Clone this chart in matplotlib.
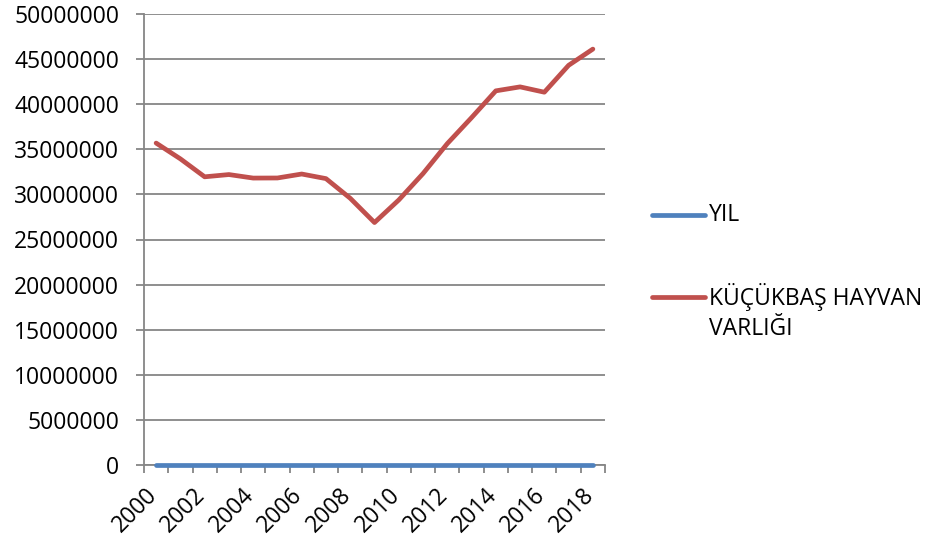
import matplotlib
matplotlib.use("Agg")
import matplotlib.pyplot as plt
from matplotlib.lines import Line2D
from matplotlib.ticker import FixedLocator, NullFormatter
from matplotlib.transforms import ScaledTranslation
import numpy as np

years = list(range(2000, 2019))
yil = years  # the "YIL" series is just the year number
kucukbas = [35690000, 33940000, 31950000, 32200000, 31810000, 31820000,
            32260000, 31750000, 29570000, 26880000, 29380000, 32310000,
            35630000, 38510000, 41480000, 41920000, 41330000, 44310000,
            46110000]
series_names = ["YIL", "KÜÇÜKBAŞ HAYVAN\nVARLIĞI"]
series_colors = ["#4F81BD", "#C0504D"]
yticks = list(range(0, 50000001, 5000000))

plt.rcParams['font.family'] = ['Open Sans', 'DejaVu Sans']
fs = 16.5
W, H = 931, 544

fig = plt.figure(figsize=(W / 100, H / 100), dpi=100)
ax = fig.add_axes([144 / W, 1 - 465 / H, (605 - 144) / W, (465 - 14) / H])

x = np.arange(len(years))
ax.plot(x, yil, color=series_colors[0], linewidth=3.4, solid_capstyle='round',
        clip_on=False, zorder=3)
ax.plot(x, kucukbas, color=series_colors[1], linewidth=3.4, solid_capstyle='round',
        solid_joinstyle='round', zorder=4)

ax.set_xlim(-0.5, len(years) - 0.5)
ax.set_ylim(0, 50000000)
ax.set_yticks(yticks)
ax.set_yticklabels([str(v) for v in yticks], fontsize=fs)
ax.yaxis.grid(True, color='#868686', linewidth=1.3)
ax.set_axisbelow(True)

# category boundaries carry tick marks, every second category gets a label
ax.xaxis.set_major_locator(FixedLocator(np.arange(-0.5, len(years), 1.0)))
ax.xaxis.set_major_formatter(NullFormatter())
ax.xaxis.set_minor_locator(FixedLocator(x[::2]))
ax.set_xticklabels([str(y) for y in years[::2]], minor=True, fontsize=fs, rotation=45, ha='right')
ax.tick_params(axis='x', which='minor', length=0, pad=13)
ax.tick_params(axis='x', which='major', length=6, color='#868686', width=1.3)
ax.tick_params(axis='y', length=6, color='#868686', width=1.3, pad=12)
shift = ScaledTranslation(6 / 100, 0, fig.dpi_scale_trans)
for lab in ax.get_xticklabels(minor=True):
    lab.set_transform(lab.get_transform() + shift)

for s in ['top', 'right']:
    ax.spines[s].set_visible(False)
for s in ['left', 'bottom']:
    ax.spines[s].set_color('#868686')
    ax.spines[s].set_linewidth(1.3)

# legend on the right, drawn by hand to mimic the spreadsheet layout
for name, col, yc, ytxt in zip(series_names, series_colors, [215, 297], [215, 312]):
    fig.add_artist(Line2D([652 / W, 705 / W], [1 - yc / H] * 2, color=col, linewidth=3.4,
                          solid_capstyle='round', transform=fig.transFigure))
    fig.text(709 / W, 1 - ytxt / H, name, fontsize=fs, va='center', ha='left',
             linespacing=1.3)

fig.savefig("out.png", dpi=100)
